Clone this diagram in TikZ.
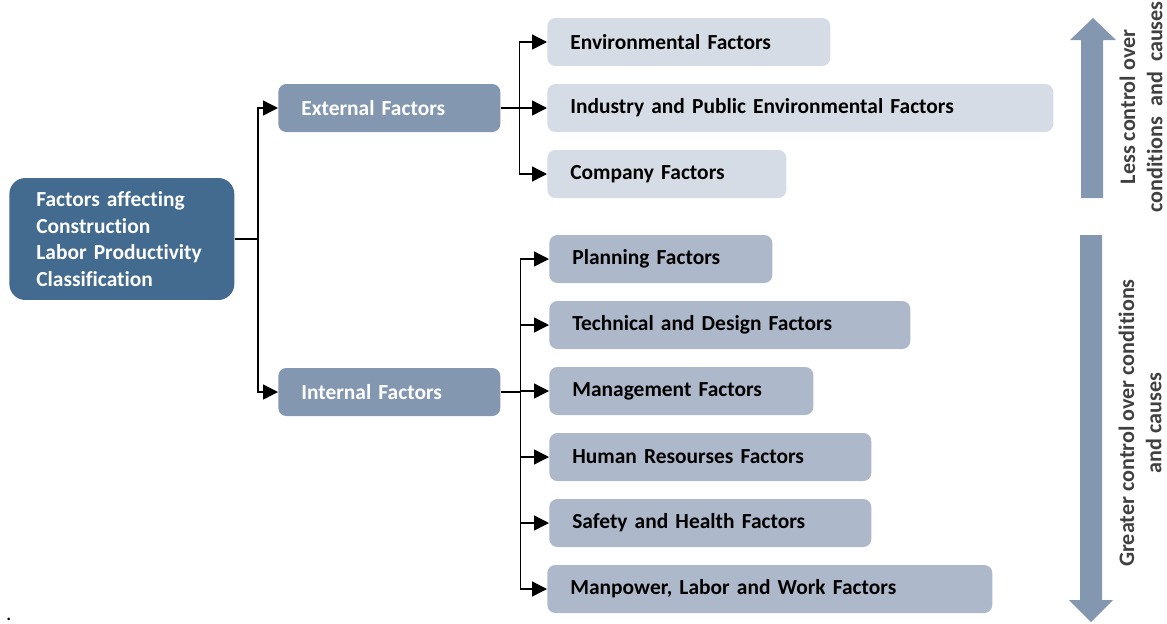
\documentclass[tikz,border=0pt]{standalone}
\usepackage{fontspec}
\setmainfont{Carlito}[Ligatures=NoCommon]
\definecolor{root_blue}{HTML}{436A8F}
\definecolor{mid_gray}{HTML}{8497B0}
\definecolor{light_gray}{HTML}{ADB9CA}
\definecolor{pale_gray}{HTML}{D6DCE5}
\definecolor{note_gray}{HTML}{404040}
\usetikzlibrary{arrows.meta, positioning, calc}

\begin{document}
\begin{tikzpicture}[x=0.02cm, y=-0.02cm,
        every node/.style={font=\fontsize{12.2}{14}\selectfont\bfseries},
        rootbox/.style={fill=root_blue, text=white, rounded corners=0.32cm,
                   anchor=west, minimum height=2.44cm, inner xsep=0.54cm,
                   text width=3.42cm, align=left,
                   font=\fontsize{12.2}{15.3}\selectfont\bfseries},
        grpbox/.style={fill=mid_gray, text=white, rounded corners=0.16cm,
                   anchor=west, minimum height=0.96cm, inner xsep=0.46cm,
                   inner ysep=0pt, text width=3.52cm, align=left},
        extleaf/.style={fill=pale_gray, rounded corners=0.16cm,
                   anchor=west, minimum height=0.96cm, inner xsep=0.46cm,
                   inner ysep=0pt, align=left, text width=#1},
        intleaf/.style={extleaf=#1, fill=light_gray},
        line/.style={line width=0.8pt},
        conn/.style={line, -{Triangle[length=0.3cm, width=0.3cm]}},
        bigarrow/.style={fill=mid_gray},
        note/.style={rotate=90, text=note_gray, align=center,
                   font=\fontsize{12.6}{15.5}\selectfont\bfseries}]
        \useasboundingbox (0,0) rectangle (1167,623);
        \node[rootbox] (root) at (9,239)
          {Factors affecting\\Construction\\Labor Productivity\\Classification};
        \node[grpbox] (ext) at (278,108) {External Factors};
        \node[grpbox] (int) at (278,392) {Internal Factors};
        \node[extleaf=4.74cm] (env) at (547,42) {Environmental Factors};
        \node[extleaf=9.2cm] (ind) at (547,108) {Industry and Public Environmental Factors};
        \node[extleaf=3.86cm] (com) at (547,174) {Company Factors};
        \node[intleaf=3.54cm] (pla) at (549,259) {Planning Factors};
        \node[intleaf=6.3cm] (tec) at (549,325) {Technical and Design Factors};
        \node[intleaf=4.36cm] (man) at (549,391) {Management Factors};
        \node[intleaf=5.52cm] (hum) at (549,457) {Human Resourses Factors};
        \node[intleaf=5.52cm] (saf) at (549,523) {Safety and Health Factors};
        \node[intleaf=7.98cm] (mpw) at (547,589) {Manpower, Labor and Work Factors};
        \node[anchor=base west, font=\fontsize{12}{14}\selectfont] (dot) at (0,620) {.};
        % connectors
        \coordinate (jr) at (258,239);
        \draw[line] (root.east) -- (jr);
        \foreach \n in {ext,int}
          \draw[conn] (jr) |- (\n.west);
        \coordinate (je) at ($(ext.east)+(19,0)$);
        \draw[line] (ext.east) -- (je);
        \foreach \n in {env,ind,com}
          \draw[conn] (je) |- (\n.west);
        \coordinate (ji) at ($(int.east)+(20,0)$);
        \draw[line] (int.east) -- (ji);
        \foreach \n in {pla,tec,man,hum,saf,mpw}
          \draw[conn] (ji) |- (\n.west);
        % control arrows
        \fill[bigarrow] (1081,198) -- (1081,40) -- (1070,40) -- (1093,18)
          -- (1116,40) -- (1103,40) -- (1103,198) -- cycle;
        \fill[bigarrow] (1080,235) -- (1080,600) -- (1069,600) -- (1091,622)
          -- (1113,600) -- (1102,600) -- (1102,235) -- cycle;
        \node[note] (less) at (1141,107) {Less control over\\conditions\ \ and\ \ causes};
        \node[note] (greater) at (1140,423) {Greater control over conditions\\and causes};
      \end{tikzpicture}
\end{document}
